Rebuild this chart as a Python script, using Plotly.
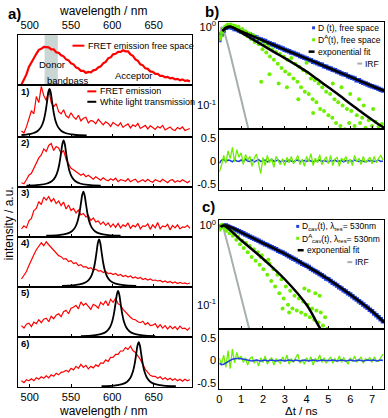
import plotly.graph_objects as go

# ---------------- panel a: spectra ----------------
wavelength = [490, 493, 496, 499, 502, 505, 508, 511, 514, 517,
              520, 523, 526, 529, 532, 535, 538, 541, 544, 547,
              550, 553, 556, 559, 562, 565, 568, 571, 574, 577,
              580, 583, 586, 589, 592, 595, 598, 601, 604, 607,
              610, 613, 616, 619, 622, 625, 628, 631, 634, 637,
              640, 643, 646, 649, 652, 655, 658, 661, 664, 667,
              670, 673, 676, 679, 682, 685, 688, 691, 694]

fret_free = [0.01, 0.11, 0.21, 0.36, 0.45, 0.56, 0.62, 0.70, 0.72, 0.76,
             0.75, 0.75, 0.71, 0.71, 0.65, 0.64, 0.59, 0.57, 0.51, 0.49,
             0.43, 0.41, 0.35, 0.33, 0.28, 0.28, 0.24, 0.26, 0.25, 0.29,
             0.30, 0.35, 0.37, 0.43, 0.46, 0.53, 0.55, 0.61, 0.62, 0.66,
             0.66, 0.69, 0.67, 0.67, 0.61, 0.58, 0.51, 0.48, 0.41, 0.39,
             0.33, 0.32, 0.27, 0.26, 0.22, 0.22, 0.18, 0.18, 0.15, 0.16,
             0.13, 0.14, 0.11, 0.12, 0.09, 0.11, 0.08, 0.09, 0.07]

fret_1 = [0.10, 0.06, 0.18, 0.34, 0.50, 0.44, 0.78, 0.66, 0.98, 0.80,
          0.70, 0.92, 0.66, 0.58, 0.64, 0.48, 0.44, 0.52, 0.40, 0.36,
          0.46, 0.38, 0.33, 0.41, 0.30, 0.35, 0.37, 0.26, 0.31, 0.29,
          0.24, 0.33, 0.27, 0.22, 0.28, 0.25, 0.19, 0.27, 0.23, 0.20,
          0.26, 0.17, 0.21, 0.24, 0.16, 0.22, 0.19, 0.25, 0.15, 0.18,
          0.21, 0.14, 0.20, 0.17, 0.13, 0.19, 0.16, 0.21, 0.12, 0.15,
          0.18, 0.13, 0.11, 0.17, 0.14, 0.18, 0.11, 0.13, 0.15]

fret_2 = [0.07, 0.05, 0.13, 0.22, 0.26, 0.37, 0.46, 0.57, 0.63, 0.75,
          0.70, 0.82, 0.86, 0.72, 0.80, 0.77, 0.66, 0.72, 0.54, 0.45,
          0.36, 0.33, 0.29, 0.26, 0.22, 0.25, 0.19, 0.22, 0.17, 0.14,
          0.19, 0.16, 0.12, 0.17, 0.13, 0.11, 0.15, 0.12, 0.16, 0.09,
          0.13, 0.12, 0.10, 0.15, 0.09, 0.12, 0.14, 0.08, 0.11, 0.13,
          0.09, 0.14, 0.10, 0.08, 0.13, 0.11, 0.09, 0.14, 0.10, 0.07,
          0.12, 0.13, 0.08, 0.11, 0.09, 0.13, 0.10, 0.07, 0.11]

fret_3 = [0.15, 0.21, 0.17, 0.31, 0.36, 0.52, 0.56, 0.70, 0.64, 0.79,
          0.73, 0.80, 0.70, 0.76, 0.66, 0.71, 0.62, 0.69, 0.55, 0.63,
          0.52, 0.56, 0.47, 0.53, 0.43, 0.46, 0.39, 0.42, 0.32, 0.37,
          0.29, 0.31, 0.24, 0.29, 0.22, 0.27, 0.19, 0.25, 0.18, 0.26,
          0.17, 0.23, 0.20, 0.27, 0.16, 0.22, 0.19, 0.26, 0.15, 0.21,
          0.20, 0.25, 0.14, 0.23, 0.17, 0.28, 0.15, 0.21, 0.19, 0.24,
          0.13, 0.22, 0.17, 0.23, 0.15, 0.19, 0.18, 0.22, 0.16]

fret_4 = [0.15, 0.22, 0.30, 0.42, 0.55, 0.64, 0.74, 0.80, 0.88, 0.82,
          0.90, 0.84, 0.78, 0.72, 0.68, 0.62, 0.60, 0.55, 0.56, 0.50,
          0.52, 0.46, 0.48, 0.42, 0.44, 0.39, 0.40, 0.36, 0.38, 0.33,
          0.35, 0.31, 0.32, 0.28, 0.30, 0.26, 0.27, 0.24, 0.26, 0.22,
          0.24, 0.20, 0.22, 0.19, 0.21, 0.17, 0.19, 0.16, 0.18, 0.14,
          0.16, 0.13, 0.15, 0.12, 0.13, 0.11, 0.12, 0.09, 0.11, 0.08,
          0.10, 0.07, 0.09, 0.06, 0.08, 0.06, 0.07, 0.05, 0.07]

fret_5 = [0.22, 0.17, 0.25, 0.27, 0.20, 0.29, 0.26, 0.34, 0.28, 0.35,
          0.37, 0.30, 0.41, 0.36, 0.43, 0.46, 0.40, 0.50, 0.53, 0.46,
          0.57, 0.59, 0.63, 0.56, 0.70, 0.63, 0.67, 0.60, 0.55, 0.65,
          0.62, 0.57, 0.69, 0.64, 0.72, 0.62, 0.75, 0.69, 0.77, 0.66,
          0.63, 0.55, 0.49, 0.45, 0.39, 0.35, 0.34, 0.30, 0.28, 0.31,
          0.24, 0.28, 0.22, 0.23, 0.26, 0.18, 0.24, 0.17, 0.22, 0.15,
          0.21, 0.16, 0.20, 0.14, 0.21, 0.16, 0.17, 0.13, 0.18]

fret_6 = [0.12, 0.08, 0.14, 0.12, 0.16, 0.12, 0.18, 0.15, 0.20, 0.17,
          0.22, 0.18, 0.24, 0.21, 0.27, 0.24, 0.29, 0.30, 0.33, 0.30,
          0.37, 0.34, 0.41, 0.37, 0.45, 0.39, 0.43, 0.36, 0.41, 0.38,
          0.44, 0.41, 0.48, 0.47, 0.54, 0.51, 0.59, 0.59, 0.65, 0.65,
          0.72, 0.72, 0.79, 0.75, 0.82, 0.73, 0.69, 0.63, 0.55, 0.45,
          0.35, 0.29, 0.23, 0.21, 0.21, 0.17, 0.20, 0.15, 0.18, 0.14,
          0.17, 0.13, 0.16, 0.12, 0.15, 0.11, 0.15, 0.12, 0.14]

# white light transmission (cavity modes)
white_x_1 = [490, 496, 504, 510, 514, 517, 519, 521, 522.5, 524, 525.5, 527, 529, 531, 534, 538, 544, 554, 569]
white_y_1 = [0.020, 0.029, 0.055, 0.105, 0.186, 0.314, 0.465, 0.684, 0.853, 0.93, 0.853, 0.684, 0.465, 0.314, 0.186, 0.105, 0.055, 0.025, 0.011]
white_x_2 = [496, 511, 521, 527, 531, 534, 536, 538, 539.5, 541, 542.5, 544, 546, 548, 551, 555, 561, 571, 586]
white_y_2 = [0.011, 0.025, 0.054, 0.104, 0.184, 0.311, 0.46, 0.676, 0.844, 0.92, 0.844, 0.676, 0.46, 0.311, 0.184, 0.104, 0.054, 0.025, 0.011]
white_x_3 = [520, 535, 545, 551, 555, 558, 560, 562, 563.5, 565, 566.5, 568, 570, 572, 575, 579, 585, 595, 610]
white_y_3 = [0.011, 0.024, 0.053, 0.102, 0.180, 0.305, 0.45, 0.662, 0.826, 0.90, 0.826, 0.662, 0.45, 0.305, 0.180, 0.102, 0.053, 0.024, 0.011]
white_x_4 = [539, 554, 564, 570, 574, 577, 579, 581, 582.5, 584, 585.5, 587, 589, 591, 594, 598, 604, 614, 629]
white_y_4 = [0.011, 0.026, 0.056, 0.107, 0.190, 0.321, 0.475, 0.698, 0.871, 0.95, 0.871, 0.698, 0.475, 0.321, 0.190, 0.107, 0.056, 0.026, 0.011]
white_x_5 = [562, 577, 587, 593, 597, 600, 602, 604, 605.5, 607, 608.5, 610, 612, 614, 617, 621, 627, 637, 652]
white_y_5 = [0.011, 0.025, 0.054, 0.104, 0.184, 0.311, 0.46, 0.676, 0.844, 0.92, 0.844, 0.676, 0.46, 0.311, 0.184, 0.104, 0.054, 0.025, 0.011]
white_x_6 = [587, 602, 612, 618, 622, 625, 627, 629, 630.5, 632, 633.5, 635, 637, 639, 642, 646, 652, 662, 677]
white_y_6 = [0.011, 0.024, 0.053, 0.102, 0.180, 0.305, 0.45, 0.662, 0.826, 0.90, 0.826, 0.662, 0.45, 0.305, 0.180, 0.102, 0.053, 0.024, 0.011]

wl_ticks = [500, 550, 600, 650]

# ---------------- panels b, c: decays ----------------
time_grid = [0.0, 0.1, 0.2, 0.3, 0.4, 0.5, 0.6, 0.7, 0.8, 0.9,
             1.0, 1.1, 1.2, 1.3, 1.4, 1.5, 1.6, 1.7, 1.8, 1.9,
             2.0, 2.1, 2.2, 2.3, 2.4, 2.5, 2.6, 2.7, 2.8, 2.9,
             3.0, 3.1, 3.2, 3.3, 3.4, 3.5, 3.6, 3.7, 3.8, 3.9,
             4.0, 4.1, 4.2, 4.3, 4.4, 4.5, 4.6, 4.7, 4.8, 4.9,
             5.0, 5.1, 5.2, 5.3, 5.4, 5.5, 5.6, 5.7, 5.8, 5.9,
             6.0, 6.1, 6.2, 6.3, 6.4, 6.5, 6.6, 6.7, 6.8, 6.9,
             7.0, 7.1, 7.2, 7.3, 7.4, 7.5]

d_free = [0.68, 0.80, 0.90, 0.97, 1.01, 0.99, 0.98, 0.94, 0.93, 0.90,
          0.87, 0.86, 0.82, 0.81, 0.79, 0.77, 0.74, 0.73, 0.70, 0.69,
          0.67, 0.66, 0.63, 0.62, 0.60, 0.59, 0.57, 0.56, 0.54, 0.53,
          0.51, 0.50, 0.49, 0.47, 0.465, 0.45, 0.44, 0.425, 0.415, 0.405,
          0.395, 0.38, 0.375, 0.36, 0.355, 0.345, 0.335, 0.33, 0.315, 0.31,
          0.30, 0.295, 0.285, 0.28, 0.27, 0.265, 0.255, 0.25, 0.245, 0.235,
          0.23, 0.225, 0.22, 0.21, 0.21, 0.20, 0.195, 0.19, 0.185, 0.18,
          0.175, 0.172, 0.168, 0.163, 0.158, 0.155]

da_free_t = [0.02, 0.07, 0.12, 0.17, 0.22, 0.27, 0.32, 0.37, 0.42, 0.47,
             0.52, 0.57, 0.62, 0.67, 0.72, 0.80, 0.88, 0.95, 1.05, 1.12,
             1.20, 1.30, 1.38, 1.45, 1.55, 1.62, 1.72, 1.80, 1.90, 1.98,
             2.08, 2.15, 2.25, 2.32, 2.42, 2.50, 2.60, 2.68, 2.78, 2.85,
             2.95, 3.02, 3.12, 3.20, 3.30, 3.40, 3.48, 3.58, 3.66, 3.75,
             3.85, 3.92, 4.02, 4.10, 4.20, 4.28, 4.38, 4.45, 4.55, 4.62,
             4.72, 4.80, 4.90, 5.00, 5.08, 5.18, 5.28, 5.35, 5.45, 5.55,
             5.65, 5.75, 5.85, 5.95, 6.05, 6.20, 6.30, 6.45, 6.55, 6.70,
             6.85, 7.00, 7.15, 7.30, 7.45, 1.92, 2.30, 2.72, 3.10, 3.62,
             4.30, 5.20, 5.60, 6.00, 6.40, 6.62, 7.05, 4.00]
da_free = [0.70, 0.76, 0.84, 0.90, 0.95, 1.00, 1.03, 1.06, 1.02, 1.05,
           1.07, 1.01, 1.04, 0.98, 1.03, 0.96, 1.00, 0.90, 0.94, 0.84,
           0.88, 0.76, 0.82, 0.70, 0.78, 0.64, 0.72, 0.60, 0.66, 0.52,
           0.60, 0.47, 0.56, 0.42, 0.52, 0.38, 0.48, 0.34, 0.45, 0.30,
           0.42, 0.27, 0.38, 0.25, 0.40, 0.22, 0.34, 0.20, 0.31, 0.17,
           0.28, 0.15, 0.26, 0.14, 0.22, 0.12, 0.21, 0.11, 0.19, 0.09,
           0.17, 0.085, 0.15, 0.075, 0.14, 0.07, 0.12, 0.06, 0.11, 0.055,
           0.10, 0.05, 0.09, 0.06, 0.085, 0.055, 0.075, 0.06, 0.07, 0.052,
           0.065, 0.055, 0.062, 0.054, 0.058, 0.20, 0.25, 0.19, 0.17, 0.12,
           0.08, 0.19, 0.17, 0.14, 0.12, 0.10, 0.09, 0.35]

fit_t_b = [0.15, 0.3, 0.5, 1.0, 1.5, 2.0, 2.5, 3.0, 3.5, 4.0, 4.5, 5.0, 5.5, 6.0, 6.5, 7.0, 7.55]
fit_d_free = [0.88, 0.97, 1.0, 0.875, 0.766, 0.67, 0.587, 0.514, 0.45, 0.394, 0.345, 0.302, 0.264, 0.231, 0.203, 0.177, 0.154]
fit_da_free = [0.88, 0.97, 1.0, 0.85, 0.70, 0.58, 0.48, 0.40, 0.33, 0.27, 0.215, 0.17, 0.135, 0.105, 0.083, 0.066, 0.052]

irf_t_b = [0.0, 0.05, 0.1, 0.2, 0.3, 0.4, 0.5, 0.6, 0.7, 0.8, 0.9, 1.0, 1.1, 1.2, 1.3, 1.4]
irf_b = [0.75, 0.9, 1.0, 0.92, 0.75, 0.58, 0.45, 0.34, 0.26, 0.2, 0.155, 0.12, 0.092, 0.071, 0.055, 0.042]

res_d_free = [-0.05, 0.02, 0.03, -0.01, 0.02, 0.01, -0.02, 0.03, 0.00, -0.01,
              0.02, -0.02, 0.04, 0.00, -0.01, 0.02, -0.02, 0.01, 0.03, -0.01,
              0.00, 0.02, -0.02, 0.01, 0.03, -0.01, 0.00, 0.02, -0.02, 0.01,
              0.00, -0.01, 0.02, 0.00, -0.02, 0.01, 0.02, -0.01, 0.00, 0.01,
              -0.01, 0.02, 0.00, -0.02, 0.01, 0.00, 0.02, -0.01, 0.01, 0.00,
              -0.02, 0.01, 0.00, 0.02, -0.01, 0.00, 0.01, -0.02, 0.01, 0.00,
              0.01, -0.01, 0.02, 0.00, -0.01, 0.01, 0.00, -0.02, 0.01, 0.00,
              0.01, -0.01, 0.00, 0.02, -0.01, 0.00]
res_da_free = [-0.24, -0.10, 0.12, -0.05, 0.22, 0.05, 0.30, -0.02, 0.25, 0.08,
               0.18, -0.08, 0.14, 0.02, 0.10, -0.12, 0.06, 0.15, -0.06, -0.28,
               0.08, -0.10, 0.12, -0.04, 0.06, -0.14, 0.10, 0.00, -0.08, 0.05,
               -0.10, 0.08, -0.04, 0.10, -0.06, 0.02, 0.12, -0.08, 0.04, -0.12,
               0.10, -0.02, 0.16, -0.10, 0.06, -0.04, 0.14, -0.08, 0.02, 0.09,
               -0.06, 0.12, -0.10, 0.04, 0.08, -0.12, 0.06, 0.00, 0.10, -0.06,
               0.04, -0.10, 0.12, -0.02, 0.06, -0.08, 0.10, -0.04, 0.02, 0.08,
               -0.06, 0.10, -0.04, 0.06, 0.12, 0.02]

d_cav = [0.95, 0.98, 1.00, 1.00, 0.97, 0.945, 0.92, 0.895, 0.87, 0.845,
         0.82, 0.795, 0.77, 0.745, 0.72, 0.70, 0.68, 0.66, 0.64, 0.62,
         0.60, 0.58, 0.565, 0.545, 0.53, 0.515, 0.50, 0.48, 0.465, 0.455,
         0.44, 0.425, 0.41, 0.395, 0.38, 0.37, 0.355, 0.345, 0.33, 0.32,
         0.31, 0.30, 0.285, 0.275, 0.265, 0.255, 0.245, 0.235, 0.225, 0.215,
         0.21, 0.20, 0.19, 0.183, 0.175, 0.167, 0.16, 0.153, 0.147, 0.14,
         0.135, 0.128, 0.122, 0.117, 0.111, 0.106, 0.101, 0.096, 0.092, 0.087,
         0.083, 0.078, 0.074, 0.070, 0.066, 0.062]

da_cav_t = [0.02, 0.07, 0.12, 0.17, 0.22, 0.27, 0.32, 0.40, 0.47, 0.55,
            0.62, 0.70, 0.78, 0.86, 0.95, 1.05, 1.12, 1.22, 1.30, 1.40,
            1.48, 1.58, 1.66, 1.76, 1.85, 1.95, 2.02, 2.12, 2.20, 2.30,
            2.38, 2.48, 2.56, 2.66, 2.75, 2.85, 2.95, 3.05, 3.15, 3.25,
            3.35, 3.45, 3.55, 3.65, 3.75, 3.85, 3.95, 4.05, 4.15, 4.25,
            4.35, 4.45, 4.55, 4.65, 4.75, 4.85, 4.95, 4.10, 4.40, 4.60,
            3.90, 2.90, 3.20, 1.90, 2.25]
da_cav = [0.88, 0.95, 1.02, 0.97, 0.93, 0.98, 0.86, 0.90, 0.80, 0.84,
          0.74, 0.78, 0.66, 0.72, 0.58, 0.64, 0.52, 0.60, 0.46, 0.55,
          0.40, 0.50, 0.36, 0.46, 0.32, 0.42, 0.28, 0.36, 0.24, 0.33,
          0.20, 0.28, 0.17, 0.24, 0.14, 0.21, 0.12, 0.17, 0.10, 0.15,
          0.09, 0.13, 0.085, 0.12, 0.08, 0.11, 0.075, 0.10, 0.07, 0.09,
          0.065, 0.085, 0.06, 0.08, 0.055, 0.07, 0.05, 0.15, 0.14, 0.13,
          0.16, 0.09, 0.08, 0.40, 0.37]

fit_t_c = [0.1, 0.3, 1.0, 2.0, 3.0, 4.0, 5.0, 6.0, 7.0, 7.55]
fit_d_cav = [0.97, 1.0, 0.82, 0.60, 0.44, 0.31, 0.21, 0.135, 0.083, 0.06]
fit_t_c2 = [0.05, 0.2, 1.0, 2.0, 3.0, 4.0, 4.63, 4.9]
fit_da_cav = [0.96, 1.0, 0.65, 0.38, 0.21, 0.10, 0.05, 0.04]

irf_t_c = [0.0, 0.05, 0.1, 0.2, 0.3, 0.4, 0.5, 0.6, 0.7, 0.8, 0.9, 1.0, 1.1, 1.2, 1.3, 1.4, 1.5]
irf_c = [0.92, 0.98, 1.0, 0.9, 0.72, 0.56, 0.44, 0.34, 0.265, 0.205, 0.16, 0.125, 0.097, 0.076, 0.059, 0.046, 0.036]

res_d_cav = [-0.06, -0.09, -0.08, -0.05, -0.02, 0.01, 0.03, 0.04, 0.05, 0.05,
             0.04, 0.03, 0.02, 0.01, 0.00, -0.01, 0.00, 0.01, 0.00, -0.01,
             0.00, 0.01, -0.01, 0.00, 0.01, 0.00, -0.01, 0.00, 0.01, 0.00,
             -0.01, 0.00, 0.01, 0.00, -0.01, 0.01, 0.00, -0.01, 0.00, 0.01,
             0.00, -0.01, 0.00, 0.01, 0.00, -0.01, 0.00, 0.01, 0.00, 0.00,
             -0.01, 0.00, 0.01, 0.00, -0.01, 0.00, 0.01, 0.00, -0.01, 0.00,
             0.01, 0.00, -0.01, 0.00, 0.01, 0.00, -0.01, 0.00, 0.01, 0.00,
             0.00, 0.01, -0.01, 0.00, 0.01, 0.00]
res_da_cav = [0.05, -0.08, 0.12, -0.15, 0.22, -0.18, 0.25, -0.05, 0.18, 0.02,
              0.10, -0.04, 0.06, -0.10, 0.04, 0.08, -0.06, 0.02, -0.12, 0.06,
              -0.04, 0.10, -0.08, 0.02, 0.06, -0.10, 0.04, 0.00, -0.06, 0.08,
              -0.02, 0.12, -0.08, 0.04, -0.04, 0.06, 0.14, -0.06, 0.02, -0.08,
              0.06, -0.02, 0.08, -0.10, 0.04, 0.00, 0.12, -0.04, 0.06, -0.06,
              0.02, 0.08, -0.06, 0.04, -0.02, 0.10, -0.04, 0.06, 0.00, -0.08,
              0.06, -0.02, 0.10, -0.04, 0.02, 0.08, -0.06, 0.04, 0.00, 0.06,
              -0.04, 0.08, 0.00, -0.02, 0.06, 0.14]

t_ticks = [0, 1, 2, 3, 4, 5, 6, 7]

# ---------------- styling ----------------
W, H = 388, 418
RED = '#ff0000'
GREEN = '#6cf000'
BLUE = '#1f3fe0'
GRAY = '#a6aeae'
FONT = 'Liberation Sans, Arial, sans-serif'


def px(x):
    return x / W


def py(y):
    return 1 - y / H


def ax_name(n, kind):
    return f'{kind}axis' if n == 1 else f'{kind}axis{n}'


def ref(n, kind):
    return kind if n == 1 else f'{kind}{n}'


frame = dict(showline=True, mirror=True, linecolor='black', linewidth=1,
             showgrid=False, zeroline=False, tickfont=dict(size=11, color='black'))

fig = go.Figure()
layout = {}

# panel a stack
edges = [32, 83, 134.5, 185, 235.5, 286, 336.5, 387]
a_spectra = [fret_free, fret_1, fret_2, fret_3, fret_4, fret_5, fret_6]
a_white = [None, (white_x_1, white_y_1), (white_x_2, white_y_2), (white_x_3, white_y_3),
           (white_x_4, white_y_4), (white_x_5, white_y_5), (white_x_6, white_y_6)]

for i in range(7):
    n = i + 1
    fig.add_trace(go.Scatter(x=wavelength, y=a_spectra[i], mode='lines',
                             line=dict(color=RED, width=2.2 if i == 0 else 1.2),
                             xaxis=ref(n, 'x'), yaxis=ref(n, 'y'), showlegend=False))
    if a_white[i]:
        fig.add_trace(go.Scatter(x=a_white[i][0], y=a_white[i][1], mode='lines',
                                 line=dict(color='black', width=1.8, shape='spline'),
                                 xaxis=ref(n, 'x'), yaxis=ref(n, 'y'), showlegend=False))
    xa = dict(frame, domain=[px(15.3), px(190)], range=[486, 696], anchor=ref(n, 'y'),
              tickvals=wl_ticks)
    if i == 0:
        xa.update(side='top', ticks='', showticklabels=True)
    else:
        xa.update(ticks='inside', ticklen=3, tickcolor='black', showticklabels=(i == 6))
    layout[ax_name(n, 'x')] = xa
    layout[ax_name(n, 'y')] = dict(frame, domain=[py(edges[i + 1]), py(edges[i])],
                                   range=[-0.01, 1.0], anchor=ref(n, 'x'),
                                   showticklabels=False, ticks='')


def decay_panel(n_main, n_res, top, mid, bot, show_labels):
    dom_x = [px(218), px(384)]
    for n in (n_main, n_res):
        layout[ax_name(n, 'x')] = dict(frame, domain=dom_x, range=[0, 7.55], anchor=ref(n, 'y'),
                                       tickvals=t_ticks, ticks='inside', ticklen=3, tickcolor='black',
                                       showticklabels=(n == n_res and show_labels))
    layout[ax_name(n_main, 'y')] = dict(frame, domain=[py(mid), py(top)], type='log',
                                        range=[-1.30, 0.063], anchor=ref(n_main, 'x'),
                                        tickvals=[1, 0.1], ticktext=['10<sup>0</sup>', '10<sup>-1</sup>'],
                                        ticks='')
    layout[ax_name(n_res, 'y')] = dict(frame, domain=[py(bot), py(mid)], range=[-0.63, 0.7],
                                       anchor=ref(n_res, 'x'), tickvals=[0.5, 0, -0.5],
                                       ticktext=['0.5', '0', '-0.5'], ticks='')


decay_panel(8, 9, 19, 127, 188, False)
decay_panel(10, 11, 219, 328, 389, True)


def add(x, y, n, **kw):
    fig.add_trace(go.Scatter(x=x, y=y, xaxis=ref(n, 'x'), yaxis=ref(n, 'y'), showlegend=False, **kw))


# panel b
add(irf_t_b, irf_b, 8, mode='lines', line=dict(color=GRAY, width=2))
add(time_grid, d_free, 8, mode='markers', marker=dict(color=BLUE, size=4.5, symbol='square'))
add(da_free_t, da_free, 8, mode='markers', marker=dict(color=GREEN, size=4))
add(fit_t_b, fit_d_free, 8, mode='lines', line=dict(color='black', width=2.5, shape='spline'))
add(fit_t_b, fit_da_free, 8, mode='lines', line=dict(color='black', width=2.5, shape='spline'))
add(time_grid, res_d_free, 9, mode='lines', line=dict(color=BLUE, width=1.5))
add(time_grid, res_da_free, 9, mode='lines', line=dict(color=GREEN, width=1.3))

# panel c
add(irf_t_c, irf_c, 10, mode='lines', line=dict(color=GRAY, width=2))
add(time_grid, d_cav, 10, mode='markers', marker=dict(color=BLUE, size=4.5, symbol='square'))
add(da_cav_t, da_cav, 10, mode='markers', marker=dict(color=GREEN, size=4))
add(fit_t_c, fit_d_cav, 10, mode='lines', line=dict(color='black', width=2.5, shape='spline'))
add(fit_t_c2, fit_da_cav, 10, mode='lines', line=dict(color='black', width=2.5, shape='spline'))
add(time_grid, res_da_cav, 11, mode='lines', line=dict(color=GREEN, width=1.3))
add(time_grid, res_d_cav, 11, mode='lines', line=dict(color=BLUE, width=1.5))

# ---------------- annotations ----------------
ann = []
shapes = []


def text(x, y, s, size=10, xanchor='left', bold=False, angle=0):
    ann.append(dict(x=px(x), y=py(y), xref='paper', yref='paper', text=f'<b>{s}</b>' if bold else s,
                    showarrow=False, xanchor=xanchor, yanchor='middle', textangle=angle,
                    font=dict(size=size, color='black', family=FONT)))


def seg(x0, x1, y, color, width):
    shapes.append(dict(type='line', xref='paper', yref='paper', x0=px(x0), x1=px(x1),
                       y0=py(y), y1=py(y), line=dict(color=color, width=width)))


def dot(x, y, color, s=3):
    shapes.append(dict(type='rect', xref='paper', yref='paper', x0=px(x - s / 2), x1=px(x + s / 2),
                       y0=py(y + s / 2), y1=py(y - s / 2), fillcolor=color, line=dict(width=0)))


# donor bandpass
shapes.append(dict(type='rect', xref='x', yref='paper', x0=518, x1=534, y0=py(83), y1=py(32),
                   fillcolor='#c9d6d4', line=dict(width=0), layer='below'))

text(3, 11, 'a)', size=15, bold=True)
text(202, 9, 'b)', size=15, bold=True)
text(199, 205, 'c)', size=15, bold=True)
text(101, 8, 'wavelength / nm', size=12, xanchor='center')
text(101, 410.5, 'wavelength / nm', size=12, xanchor='center')
text(6, 222, 'intensity / a.u.', size=12, xanchor='center', angle=-90)
text(301, 410.5, 'Δt / ns', size=11.5, xanchor='center')

text(34, 62, 'Donor', size=9.5)
text(42, 78, 'bandpass', size=9.5)
text(111, 73, 'Acceptor', size=9.5)

seg(70, 82, 43, RED, 2)
text(84, 43, 'FRET emission free space', size=9)
seg(85, 94, 89, RED, 2)
text(96, 89, 'FRET emission', size=9)
seg(85, 94, 99.5, 'black', 2)
text(96, 99.5, 'White light transmission', size=9)

for k in range(6):
    text(16, edges[k + 1] + 6, f'{k + 1})', size=9.5, bold=True)

# legend b
dot(313, 25, BLUE)
text(315, 25, 'D (t), free space', size=8.5)
dot(313, 37, GREEN)
text(315, 37, 'D<sup>A</sup>(t), free space', size=8.5)
seg(308, 314, 49, 'black', 2.5)
text(315, 49, 'exponential fit', size=8.5)
seg(357, 362, 61, GRAY, 2)
text(363, 61, 'IRF', size=8.5)

# legend c
dot(297, 225, BLUE)
text(299, 225, 'D<sub>cav</sub>(t), λ<sub>res</sub>= 530nm', size=8.5)
dot(297, 237, GREEN)
text(299, 237, 'D<sup>A</sup><sub>cav</sub>(t), λ<sub>res</sub>= 530nm', size=8.5)
seg(297, 303, 249, 'black', 2.5)
text(304, 249, 'exponential fit', size=8.5)
seg(347, 352, 261, GRAY, 2)
text(353, 261, 'IRF', size=8.5)

fig.update_layout(**layout)
fig.update_layout(width=W, height=H, margin=dict(l=0, r=0, t=0, b=0),
                  paper_bgcolor='white', plot_bgcolor='white',
                  font=dict(family=FONT, color='black', size=11),
                  annotations=ann, shapes=shapes, showlegend=False)

fig.write_html('out.html', config={'displayModeBar': False},
               post_script="document.body.style.margin='0';document.body.style.overflow='hidden';")
